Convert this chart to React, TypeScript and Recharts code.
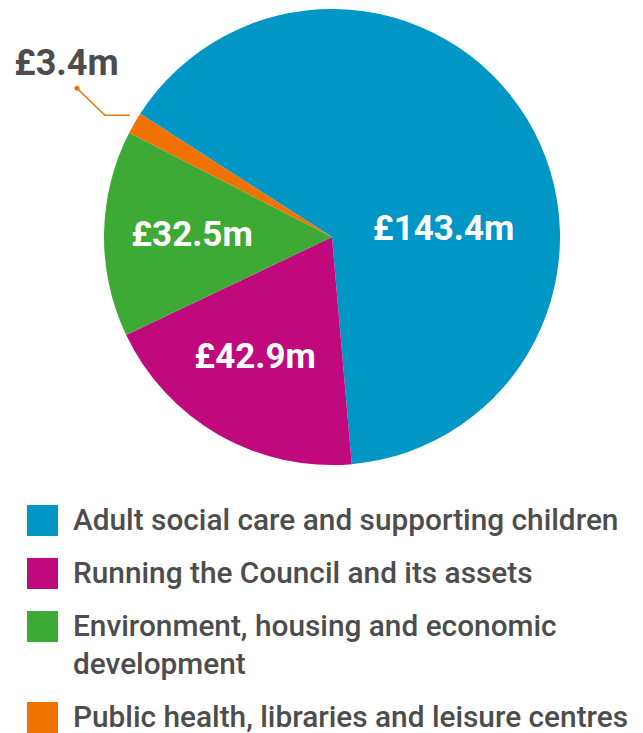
import { PieChart, Pie, Cell } from 'recharts'

const CATEGORIAS = [
  'Adult social care and supporting children',
  'Running the Council and its assets',
  'Environment, housing and economic development',
  'Public health, libraries and leisure centres',
]
const VALORES = [143.4, 42.9, 32.5, 3.4]
const ETIQUETAS = ['£143.4m', '£42.9m', '£32.5m', '£3.4m']
const COLORES = ['#0096c6', '#c0097d', '#3eaa36', '#ef7203']

const data = CATEGORIAS.map((nombre, i) => ({ nombre, valor: VALORES[i], etiqueta: ETIQUETAS[i] }))

const RAD = Math.PI / 180
const GRIS = '#4d4d4d'
const FUENTE = 'Roboto, "Open Sans", sans-serif'

function Etiqueta(props: any) {
  const { cx, cy, midAngle, outerRadius, index } = props
  const texto = ETIQUETAS[index]
  if (index === 3) {
    // slice pequeño: etiqueta fuera con línea guía
    const ex = cx + outerRadius * Math.cos(midAngle * RAD) - 4.5
    const ey = cy - outerRadius * Math.sin(midAngle * RAD) - 8
    const codoX = ex - 25
    const puntoX = codoX - 28
    const puntoY = ey - 27
    return (
      <g>
        <polyline
          points={`${ex},${ey} ${codoX},${ey} ${puntoX},${puntoY}`}
          fill="none"
          stroke={COLORES[3]}
          strokeWidth={1.5}
        />
        <circle cx={puntoX} cy={puntoY} r={2.5} fill={COLORES[3]} />
        <text
          x={puntoX - 10.5}
          y={puntoY - 25}
          textAnchor="middle"
          dominantBaseline="central"
          fill={GRIS}
          fontFamily={FUENTE}
          fontWeight={700}
          fontSize={36}
        >
          {texto}
        </text>
      </g>
    )
  }
  let ang = midAngle
  let r = 140
  if (index === 0) {
    ang = 4.6
    r = 112
  } else if (index === 1) {
    ang = midAngle - 3
    r = 142
  }
  const x = cx + r * Math.cos(ang * RAD)
  const y = cy - r * Math.sin(ang * RAD)
  return (
    <text
      x={x}
      y={y}
      textAnchor="middle"
      dominantBaseline="central"
      fill="#ffffff"
      fontFamily={FUENTE}
      fontWeight={700}
      fontSize={35}
    >
      {texto}
    </text>
  )
}

export default function App() {
  return (
    <div style={{ position: 'absolute', left: 0, top: 0, width: 643, height: 733, background: '#fff' }}>
      <PieChart width={643} height={480} margin={{ top: 0, right: 0, bottom: 0, left: 0 }}>
        <Pie
          data={data}
          dataKey="valor"
          nameKey="nombre"
          cx={332}
          cy={237}
          outerRadius={228}
          startAngle={147.3}
          endAngle={-212.7}
          stroke="none"
          label={Etiqueta}
          labelLine={false}
          isAnimationActive={false}
        >
          {data.map((d, i) => (
            <Cell key={d.nombre} fill={COLORES[i]} />
          ))}
        </Pie>
      </PieChart>
      <div style={{ position: 'absolute', left: 27, top: 501, width: 615 }}>
        {CATEGORIAS.map((c, i) => (
          <div key={c} style={{ display: 'flex', alignItems: 'flex-start', marginBottom: 15 }}>
            <div style={{ width: 31, height: 31, background: COLORES[i], flexShrink: 0, marginTop: 4 }} />
            <div
              style={{
                marginLeft: 15,
                maxWidth: 565,
                fontFamily: FUENTE,
                fontWeight: 500,
                fontSize: 29.8,
                lineHeight: '38px',
                color: GRIS,
                whiteSpace: i === 2 ? 'normal' : 'nowrap',
              }}
            >
              {c}
            </div>
          </div>
        ))}
      </div>
    </div>
  )
}
